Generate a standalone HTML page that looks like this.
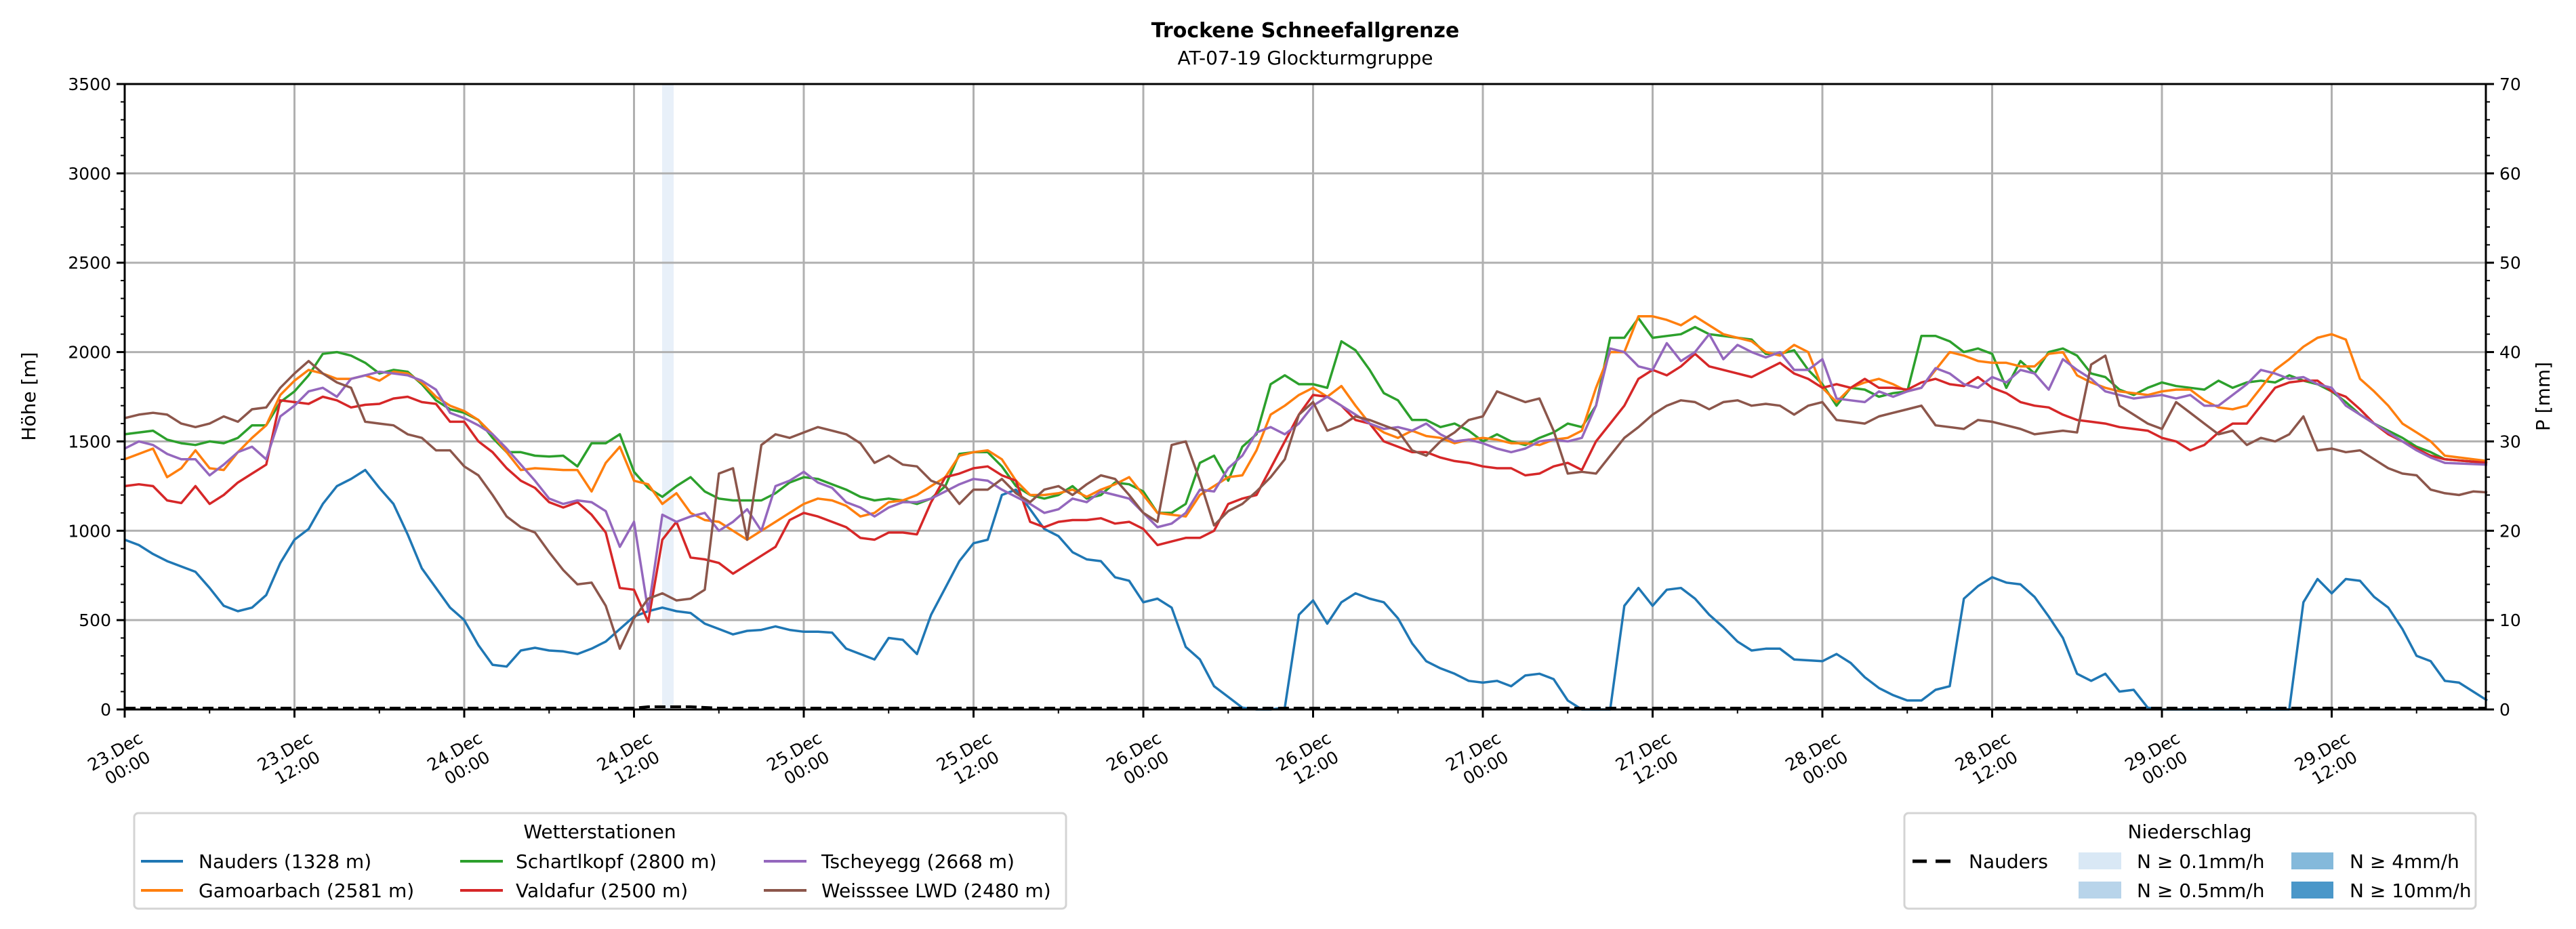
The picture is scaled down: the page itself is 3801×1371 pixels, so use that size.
<!DOCTYPE html>
<html><head><meta charset="utf-8"><style>
html,body{margin:0;padding:0;background:#fff}
svg{display:block;font-family:"DejaVu Sans","Liberation Sans",sans-serif}
</style></head><body>
<svg id="s" width="3801" height="1371" viewBox="0 0 3801 1371" xmlns="http://www.w3.org/2000/svg">
<rect width="3801" height="1371" fill="#fff"/>
<text x="1926" y="55" text-anchor="middle" font-size="30" font-weight="bold">Trockene Schneefallgrenze</text>
<text x="1926" y="95" text-anchor="middle" font-size="28">AT-07-19 Glockturmgruppe</text>
<rect x="977" y="124" width="17" height="923" fill="#e8f0f9"/>
<g id="grid"></g>
<g id="lines"></g>
<g id="axes"></g>
<text transform="translate(52,585) rotate(-90)" text-anchor="middle" font-size="28">Höhe [m]</text>
<text transform="translate(3762,585) rotate(-90)" text-anchor="middle" font-size="28">P [mm]</text>
<g id="xl" font-size="25">
</g>
<rect x="198" y="1200" width="1375" height="141" rx="6" fill="#fff" stroke="#d4d4d4" stroke-width="3"/>
<text x="885" y="1237" text-anchor="middle" font-size="28">Wetterstationen</text>
<g font-size="28">
<line x1="208" y1="1271" x2="270" y2="1271" stroke="#1f77b4" stroke-width="4"/><text x="293" y="1281">Nauders (1328 m)</text>
<line x1="208" y1="1314" x2="270" y2="1314" stroke="#ff7f0e" stroke-width="4"/><text x="293" y="1324">Gamoarbach (2581 m)</text>
<line x1="679" y1="1271" x2="742" y2="1271" stroke="#2ca02c" stroke-width="4"/><text x="761" y="1281">Schartlkopf (2800 m)</text>
<line x1="679" y1="1314" x2="742" y2="1314" stroke="#d62728" stroke-width="4"/><text x="761" y="1324">Valdafur (2500 m)</text>
<line x1="1127" y1="1271" x2="1190" y2="1271" stroke="#9467bd" stroke-width="4"/><text x="1212" y="1281">Tscheyegg (2668 m)</text>
<line x1="1127" y1="1314" x2="1190" y2="1314" stroke="#8c564b" stroke-width="4"/><text x="1212" y="1324">Weisssee LWD (2480 m)</text>
</g>
<rect x="2810" y="1200" width="843" height="141" rx="6" fill="#fff" stroke="#d4d4d4" stroke-width="3"/>
<text x="3231" y="1237" text-anchor="middle" font-size="28">Niederschlag</text>
<g font-size="28">
<line x1="2822" y1="1271" x2="2843" y2="1271" stroke="#000" stroke-width="5"/><line x1="2856" y1="1271" x2="2878" y2="1271" stroke="#000" stroke-width="5"/>
<text x="2905" y="1281">Nauders</text>
<rect x="3067" y="1258" width="63" height="25" fill="#d9e8f5"/><text x="3153" y="1281">N ≥ 0.1mm/h</text>
<rect x="3067" y="1301" width="63" height="25" fill="#b8d4ea"/><text x="3153" y="1324">N ≥ 0.5mm/h</text>
<rect x="3381" y="1258" width="62" height="25" fill="#84b9db"/><text x="3467" y="1281">N ≥ 4mm/h</text>
<rect x="3381" y="1301" width="62" height="25" fill="#4a97c9"/><text x="3467" y="1324">N ≥ 10mm/h</text>
</g>
</svg>
<script>
var NS="http://www.w3.org/2000/svg",L=184,R=3668,T=124,B=1047,PH=20.875;
function X(h){return L+h*PH} function Y(v){return B-v*(B-T)/3500}
function el(p,t,a,txt){var e=document.createElementNS(NS,t);for(var k in a)e.setAttribute(k,a[k]);if(txt!=null)e.textContent=txt;document.getElementById(p).appendChild(e);return e}
for(var v=500;v<=3000;v+=500)el("grid","line",{x1:L,x2:R,y1:Y(v),y2:Y(v),stroke:"#b0b0b0","stroke-width":3});
for(var h=12;h<167;h+=12)el("grid","line",{x1:X(h),x2:X(h),y1:T,y2:B,stroke:"#b0b0b0","stroke-width":3});
var D={
"#1f77b4":"0:950 1:920 2:870 3:830 4:800 5:770 6:680 7:580 8:550 9:570 10:640 11:820 12:950 13:1010 14:1150 15:1250 16:1290 17:1340 18:1240 19:1150 20:980 21:790 22:680 23:570 24:500 25:360 26:250 27:240 28:330 29:345 30:330 31:325 32:310 33:340 34:380 35:450 36:520 37:550 38:570 39:550 40:540 41:480 42:450 43:420 44:440 45:445 46:465 47:445 48:435 49:435 50:430 51:340 52:310 53:280 54:400 55:390 56:310 57:530 58:680 59:830 60:930 61:950 62:1200 63:1230 64:1120 65:1010 66:970 67:880 68:840 69:830 70:740 71:720 72:600 73:620 74:570 75:350 76:280 77:130 78:70 79:10 80:0 81:0 82:10 83:530 84:610 85:480 86:600 87:650 88:620 89:600 90:510 91:370 92:270 93:230 94:200 95:160 96:150 97:160 98:130 99:190 100:200 101:170 102:50 103:0 105:0 106:580 107:680 108:580 109:670 110:680 111:620 112:530 113:460 114:380 115:330 116:340 117:340 118:280 119:275 120:270 121:310 122:260 123:180 124:120 125:80 126:50 127:50 128:110 129:130 130:620 131:690 132:740 133:710 134:700 135:630 136:520 137:400 138:200 139:160 140:200 141:100 142:110 143:10 144:0 153:0 154:600 155:730 156:650 157:730 158:720 159:630 160:570 161:450 162:300 163:270 164:160 165:150 166:100 167:50",
"#2ca02c":"0:1540 2:1560 3:1510 4:1490 5:1480 6:1500 7:1490 8:1520 9:1590 10:1590 11:1720 12:1780 13:1870 14:1990 15:2000 16:1980 17:1940 18:1880 19:1900 20:1890 21:1820 22:1730 23:1680 24:1660 25:1620 26:1520 27:1440 28:1440 29:1420 30:1415 31:1420 32:1360 33:1490 34:1490 35:1540 36:1330 37:1240 38:1190 39:1250 40:1300 41:1220 42:1180 43:1170 44:1170 45:1170 46:1210 47:1270 48:1300 49:1290 50:1260 51:1230 52:1190 53:1170 54:1180 55:1170 56:1150 57:1180 58:1250 59:1430 60:1440 61:1440 62:1360 63:1250 64:1200 65:1180 66:1200 67:1250 68:1180 69:1200 70:1270 71:1260 72:1220 73:1100 74:1100 75:1150 76:1380 77:1420 78:1280 79:1470 80:1540 81:1820 82:1870 83:1820 84:1820 85:1800 86:2060 87:2010 88:1900 89:1770 90:1730 91:1620 92:1620 93:1580 94:1600 95:1560 96:1500 97:1540 98:1500 99:1480 100:1520 101:1550 102:1600 103:1580 104:1700 105:2080 106:2080 107:2190 108:2080 109:2090 110:2100 111:2140 112:2100 113:2090 114:2080 115:2070 116:1990 117:1990 118:2010 119:1900 120:1820 121:1700 122:1800 123:1790 124:1750 125:1770 126:1780 127:2090 128:2090 129:2060 130:2000 131:2020 132:1990 133:1800 134:1950 135:1880 136:2000 137:2020 138:1980 139:1880 140:1860 141:1790 142:1760 143:1800 144:1830 145:1810 146:1800 147:1790 148:1840 149:1800 150:1830 151:1840 152:1830 153:1870 154:1840 155:1820 156:1780 157:1720 158:1650 159:1600 160:1560 161:1520 162:1470 163:1440 164:1400 167:1380",
"#ff7f0e":"0:1400 2:1460 3:1300 4:1350 5:1450 6:1350 7:1340 8:1440 9:1520 10:1590 11:1760 12:1840 13:1900 14:1880 15:1850 16:1850 17:1870 18:1840 19:1890 20:1880 21:1830 22:1750 23:1700 24:1670 25:1620 26:1540 27:1440 28:1340 29:1350 30:1345 31:1340 32:1340 33:1220 34:1380 35:1470 36:1280 37:1260 38:1150 39:1210 40:1100 41:1060 42:1050 43:1000 44:950 45:1000 46:1050 47:1100 48:1150 49:1180 50:1170 51:1140 52:1080 53:1100 54:1160 55:1170 56:1200 57:1250 58:1300 59:1420 60:1440 61:1450 62:1400 63:1280 64:1200 65:1200 66:1210 67:1230 68:1190 69:1230 70:1260 71:1300 72:1200 73:1100 74:1090 75:1080 76:1200 77:1250 78:1300 79:1310 80:1450 81:1650 82:1700 83:1760 84:1800 85:1750 86:1810 87:1700 88:1600 89:1550 90:1520 91:1560 92:1530 93:1520 94:1490 95:1510 96:1520 97:1510 98:1490 99:1490 100:1480 101:1510 102:1520 103:1560 104:1800 105:2000 106:2000 107:2200 108:2200 109:2180 110:2150 111:2200 112:2150 113:2100 114:2080 115:2060 116:2000 117:1980 118:2040 119:2000 120:1800 121:1720 122:1800 123:1830 124:1850 125:1820 126:1780 127:1800 128:1900 129:2000 130:1980 131:1950 132:1940 133:1940 134:1920 135:1920 136:1990 137:2000 138:1870 139:1830 140:1800 141:1780 142:1770 143:1760 144:1780 145:1790 146:1790 147:1730 148:1690 149:1680 150:1700 151:1800 152:1900 153:1960 154:2030 155:2080 156:2100 157:2070 158:1850 159:1780 160:1700 161:1600 162:1550 163:1500 164:1420 167:1390",
"#d62728":"0:1250 1:1260 2:1250 3:1170 4:1155 5:1250 6:1150 7:1200 8:1270 9:1320 10:1370 11:1730 12:1720 13:1710 14:1750 15:1730 16:1690 17:1705 18:1710 19:1740 20:1750 21:1720 22:1710 23:1610 24:1610 25:1500 26:1440 27:1350 28:1280 29:1240 30:1160 31:1130 32:1160 33:1090 34:990 35:680 36:670 37:490 38:950 39:1050 40:850 41:840 42:820 43:760 44:810 45:860 46:910 47:1060 48:1100 49:1080 50:1050 51:1020 52:960 53:950 54:990 55:990 56:980 57:1160 58:1300 59:1320 60:1350 61:1360 62:1310 63:1280 64:1050 65:1020 66:1050 67:1060 68:1060 69:1070 70:1040 71:1050 72:1010 73:920 74:940 75:960 76:960 77:1000 78:1150 79:1180 80:1200 81:1350 82:1500 83:1650 84:1760 85:1750 86:1700 87:1620 88:1600 89:1500 90:1470 91:1440 92:1440 93:1410 94:1390 95:1380 96:1360 97:1350 98:1350 99:1310 100:1320 101:1360 102:1380 103:1340 104:1500 105:1600 106:1700 107:1850 108:1900 109:1870 110:1920 111:1990 112:1920 113:1900 114:1880 115:1860 116:1900 117:1940 118:1880 119:1850 120:1800 121:1820 122:1800 123:1850 124:1800 125:1800 126:1790 127:1830 128:1850 129:1820 130:1810 131:1860 132:1800 133:1770 134:1720 135:1700 136:1690 137:1650 138:1620 139:1610 140:1600 141:1580 142:1570 143:1560 144:1520 145:1500 146:1450 147:1480 148:1550 149:1600 150:1600 151:1700 152:1800 153:1830 154:1840 155:1840 156:1780 157:1750 158:1680 159:1600 160:1540 161:1500 162:1460 163:1420 164:1400 167:1380",
"#9467bd":"0:1460 1:1500 2:1480 3:1430 4:1400 5:1400 6:1310 7:1370 8:1440 9:1470 10:1400 11:1640 12:1700 13:1780 14:1800 15:1750 16:1850 17:1870 18:1890 19:1880 20:1870 21:1840 22:1790 23:1660 24:1630 25:1590 26:1540 27:1460 28:1370 29:1280 30:1180 31:1150 32:1170 33:1160 34:1110 35:910 36:1050 37:550 38:1090 39:1050 40:1080 41:1100 42:1000 43:1050 44:1120 45:1000 46:1250 47:1280 48:1330 49:1270 50:1240 51:1160 52:1130 53:1080 54:1130 55:1160 56:1160 57:1180 58:1220 59:1260 60:1290 61:1280 62:1230 63:1190 64:1150 65:1100 66:1120 67:1180 68:1160 69:1220 70:1200 71:1180 72:1100 73:1020 74:1040 75:1100 76:1230 77:1220 78:1350 79:1420 80:1550 81:1580 82:1540 83:1600 84:1700 85:1750 86:1700 87:1650 88:1600 89:1570 90:1580 91:1560 92:1600 93:1540 94:1500 95:1510 96:1490 97:1460 98:1440 99:1460 100:1500 101:1510 102:1500 103:1520 104:1700 105:2020 106:2000 107:1920 108:1900 109:2050 110:1950 111:2000 112:2100 113:1960 114:2040 115:2000 116:1970 117:2000 118:1900 119:1900 120:1960 121:1740 122:1730 123:1720 124:1780 125:1750 126:1780 127:1800 128:1910 129:1880 130:1820 131:1800 132:1860 133:1830 134:1900 135:1880 136:1790 137:1960 138:1900 139:1850 140:1780 141:1760 142:1740 143:1750 144:1760 145:1740 146:1760 147:1700 148:1700 149:1760 150:1820 151:1900 152:1880 153:1850 154:1860 155:1820 156:1800 157:1700 158:1650 159:1600 160:1550 161:1500 162:1450 163:1410 164:1380 167:1370",
"#8c564b":"0:1630 1:1650 2:1660 3:1650 4:1600 5:1580 6:1600 7:1640 8:1610 9:1680 10:1690 11:1800 12:1880 13:1950 14:1880 15:1830 16:1800 17:1610 18:1600 19:1590 20:1540 21:1520 22:1450 23:1450 24:1360 25:1310 26:1200 27:1080 28:1020 29:990 30:880 31:780 32:700 33:710 34:580 35:340 36:510 37:620 38:650 39:610 40:620 41:670 42:1320 43:1350 44:950 45:1480 46:1540 47:1520 48:1550 49:1580 50:1560 51:1540 52:1490 53:1380 54:1420 55:1370 56:1360 57:1280 58:1250 59:1150 60:1230 61:1230 62:1290 63:1210 64:1160 65:1230 66:1250 67:1200 68:1260 69:1310 70:1290 71:1200 72:1100 73:1050 74:1480 75:1500 76:1280 77:1030 78:1110 79:1150 80:1220 81:1300 82:1400 83:1650 84:1720 85:1560 86:1590 87:1640 88:1620 89:1590 90:1560 91:1450 92:1420 93:1500 94:1550 95:1620 96:1640 97:1780 98:1750 99:1720 100:1740 101:1560 102:1320 103:1330 104:1320 105:1420 106:1520 107:1580 108:1650 109:1700 110:1730 111:1720 112:1680 113:1720 114:1730 115:1700 116:1710 117:1700 118:1650 119:1700 120:1720 121:1620 122:1610 123:1600 124:1640 125:1660 126:1680 127:1700 128:1590 129:1580 130:1570 131:1620 132:1610 133:1590 134:1570 135:1540 136:1550 137:1560 138:1550 139:1930 140:1980 141:1700 142:1650 143:1600 144:1570 145:1720 146:1660 147:1600 148:1540 149:1560 150:1480 151:1520 152:1500 153:1540 154:1640 155:1450 156:1460 157:1440 158:1450 159:1400 160:1350 161:1320 162:1310 163:1230 164:1210 165:1200 166:1220 167:1215"};
for(var c in D){var pts=D[c].split(" ").map(function(s){var q=s.split(":");return X(+q[0]).toFixed(1)+","+Y(+q[1]).toFixed(1)}).join(" ");
el("lines","polyline",{points:pts,fill:"none",stroke:c,"stroke-width":3.5,"stroke-linejoin":"round"});}
el("lines","polyline",{points:L+","+(B-2)+" "+X(36)+","+(B-2)+" "+X(37)+","+(B-4)+" "+X(40)+","+(B-4)+" "+X(42)+","+(B-2)+" "+R+","+(B-2),fill:"none",stroke:"#000","stroke-width":4,"stroke-dasharray":"16 7"});
el("axes","rect",{x:L,y:T,width:R-L,height:B-T,fill:"none",stroke:"#000","stroke-width":3});
for(var v=0;v<=3500;v+=100){var mj=v%500==0;el("axes","line",{x1:L-(mj?12:6),x2:L,y1:Y(v),y2:Y(v),stroke:"#000","stroke-width":mj?3:2});
 if(mj)el("axes","text",{x:L-20,y:Y(v)+9,"text-anchor":"end","font-size":25},String(v));}
for(var p=0;p<=70;p+=2){var mj=p%10==0,y=B-p*(B-T)/70;el("axes","line",{x1:R,x2:R+(mj?12:6),y1:y,y2:y,stroke:"#000","stroke-width":mj?3:2});
 if(mj)el("axes","text",{x:R+20,y:y+9,"font-size":25},String(p));}
var days=["23","24","25","26","27","28","29"];
for(var h=0;h<168;h+=6){var mj=h%12==0;el("axes","line",{x1:X(h),x2:X(h),y1:B,y2:B+(mj?12:6),stroke:"#000","stroke-width":mj?3:2});
 if(mj){var g=el("xl","g",{transform:"translate("+(X(h)+10)+",1075) rotate(-30)"});
  var d=days[Math.floor(h/24)]+".Dec",t=(h%24==0)?"00:00":"12:00";
  var a=document.createElementNS(NS,"text");a.setAttribute("x",-38);a.setAttribute("y",26);a.setAttribute("text-anchor","middle");a.textContent=d;g.appendChild(a);
  var b=document.createElementNS(NS,"text");b.setAttribute("x",-34);b.setAttribute("y",56);b.setAttribute("text-anchor","middle");b.textContent=t;g.appendChild(b);}}
</script>
</body></html>
